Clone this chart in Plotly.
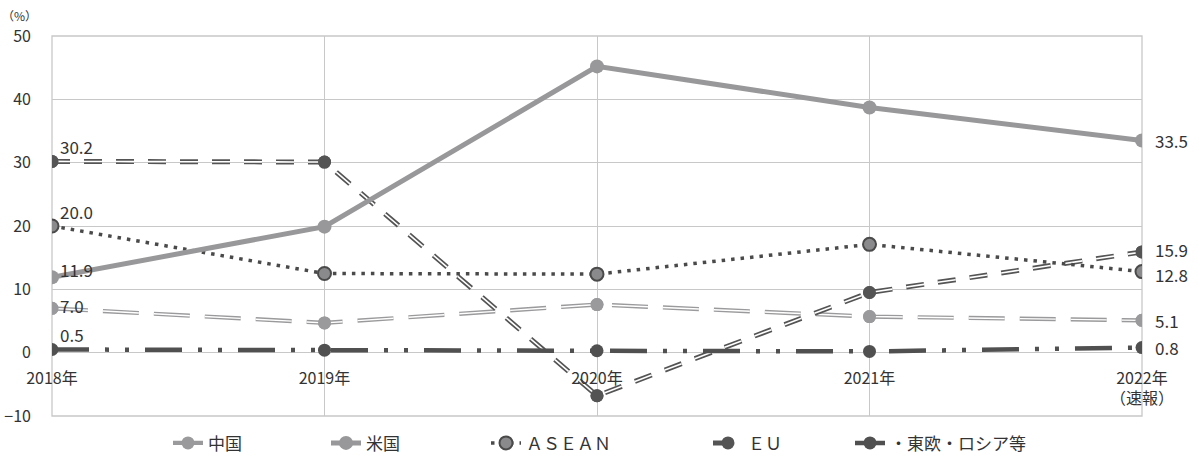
import plotly.graph_objects as go

# Year axis
years = ["2018年", "2019年", "2020年", "2021年", "2022年<br>（速報）"]
x_pos = [0, 1, 2, 3, 4]

# Growth rates (%) by region
china = [7.0, 4.7, 7.6, 5.7, 5.1]
usa = [11.9, 19.9, 45.2, 38.7, 33.5]
asean = [20.0, 12.5, 12.4, 17.1, 12.8]
eu = [30.2, 30.1, -6.8, 9.5, 15.9]
east_eu = [0.5, 0.4, 0.3, 0.2, 0.8]

names = ["中国", "米国", "ＡＳＥＡＮ", "ＥＵ", "・東欧・ロシア等"]

FONT = "Noto Sans CJK JP"
TXT = "#333333"

# plot area in pixels (for placing each legend entry)
L, R = 52, 1142
legend_left_px = [168, 326, 486, 708, 850]
legend_ids = ["legend", "legend2", "legend3", "legend4", "legend5"]

fig = go.Figure()


def double_line(y, name, leg, color, width, inner, dash, msize):
    # outer stroke + white core = double line, markers redrawn on top
    fig.add_trace(go.Scatter(
        x=x_pos, y=y, name=name, legend=leg, mode="lines+markers",
        line=dict(color=color, width=width, dash=dash),
        marker=dict(color=color, size=msize)))
    fig.add_trace(go.Scatter(
        x=x_pos, y=y, mode="lines", showlegend=False, hoverinfo="skip",
        line=dict(color="white", width=inner, dash=dash)))
    fig.add_trace(go.Scatter(
        x=x_pos, y=y, mode="markers", showlegend=False, hoverinfo="skip",
        marker=dict(color=color, size=msize)))


double_line(china, names[0], legend_ids[0], "#9a9a9c", 4.2, 1.4, "36px,15px", 13)
double_line(eu, names[3], legend_ids[3], "#545454", 5, 1.6, "18px,14px", 13)
fig.add_trace(go.Scatter(
    x=x_pos, y=east_eu, name=names[4], legend=legend_ids[4], mode="lines+markers",
    line=dict(color="#505050", width=4.5, dash="37px,16px,4px,16px,4px,16px"),
    marker=dict(color="#505050", size=13)))
fig.add_trace(go.Scatter(
    x=x_pos, y=asean, name=names[2], legend=legend_ids[2], mode="lines+markers",
    line=dict(color="#4a4a4a", width=3.5, dash="3.5px,6px"),
    marker=dict(color="#8a8a8c", size=13, line=dict(color="#4a4a4a", width=2))))
fig.add_trace(go.Scatter(
    x=x_pos, y=usa, name=names[1], legend=legend_ids[1], mode="lines+markers",
    line=dict(color="#98989a", width=5),
    marker=dict(color="#98989a", size=14)))

# value labels at the first and last year
series = [usa, china, eu, asean, east_eu]
first_dy = [8, 3, 15, 15, 15]
last_dy = [0, 0, 2, -3, 0]
for s, dy0, dy1 in zip(series, first_dy, last_dy):
    fig.add_annotation(x=x_pos[0], y=s[0], text=f"{s[0]:.1f}", showarrow=False,
                       xanchor="left", yanchor="middle", xshift=6, yshift=dy0,
                       font=dict(size=17, color=TXT, family=FONT))
    fig.add_annotation(x=x_pos[-1], y=s[-1], text=f"{s[-1]:.1f}", showarrow=False,
                       xanchor="left", yanchor="middle", xshift=11, yshift=dy1,
                       font=dict(size=17, color=TXT, family=FONT))

fig.add_annotation(x=0, y=1, xref="paper", yref="paper", text="（%）",
                   showarrow=False, xanchor="right", yanchor="middle",
                   xshift=-13, yshift=21, font=dict(size=12, color=TXT, family=FONT))

fig.add_shape(type="rect", xref="x domain", yref="y domain", x0=0, x1=1, y0=0, y1=1,
              line=dict(color="#c8c8c8", width=1.3), layer="below")

legend_style = dict(orientation="h", y=-0.072, yanchor="middle", xanchor="left",
                    font=dict(size=17, color=TXT, family=FONT), itemwidth=30,
                    bgcolor="rgba(0,0,0,0)")
legends = {}
for lid, px in zip(legend_ids, legend_left_px):
    legends[lid] = dict(legend_style, x=(px - L) / (R - L))

fig.update_layout(
    width=1199, height=461,
    margin=dict(l=L, r=1199 - R, t=36, b=45, autoexpand=False),
    plot_bgcolor="white", paper_bgcolor="white",
    font=dict(family=FONT, color=TXT, size=16),
    showlegend=True,
    xaxis=dict(range=[0, 4], tickvals=x_pos, ticktext=years, showgrid=True,
               gridcolor="#c8c8c8", gridwidth=1.3, zeroline=False, showline=False,
               anchor="free", position=1 / 6, ticks="", ticklabelstandoff=14,
               automargin=False, tickfont=dict(size=16, color=TXT)),
    yaxis=dict(range=[-10, 50], dtick=10, showgrid=True, gridcolor="#c8c8c8",
               gridwidth=1.3, zeroline=False, ticks="", ticklabelstandoff=20,
               automargin=False, tickfont=dict(size=16, color=TXT)),
    **legends,
)

fig.write_html("out.html")
